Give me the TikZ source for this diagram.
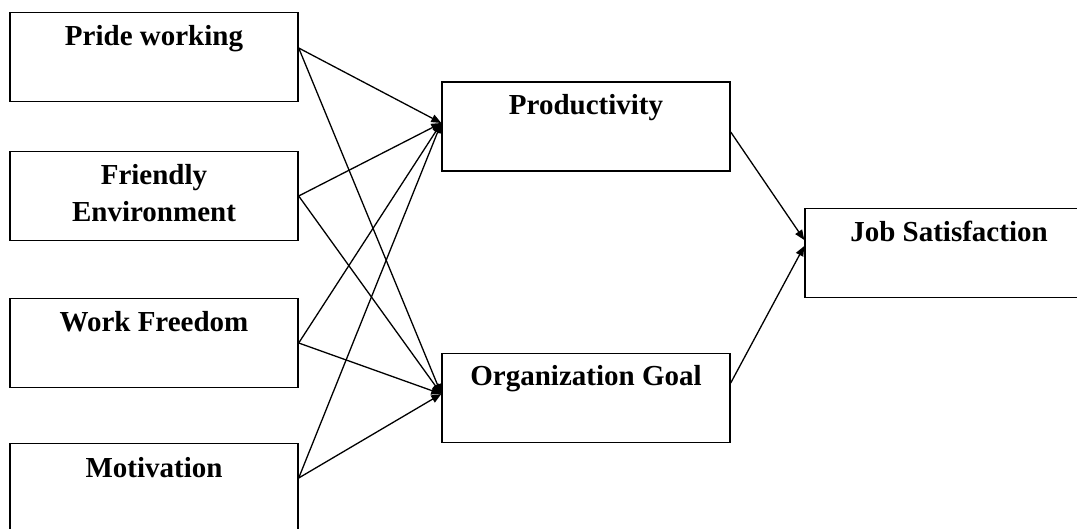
\documentclass[tikz,border=0pt]{standalone}
\usepackage{fontspec}
\setmainfont{Liberation Serif}
\usetikzlibrary{arrows.meta}
\begin{document}
\begin{tikzpicture}[x=1pt,y=-1pt,
  box/.style={draw, line width=1.4pt, minimum width=288pt, minimum height=89pt, inner sep=0pt},
  lbl/.style={anchor=base, inner sep=0pt, font=\fontsize{29}{34}\selectfont\bfseries},
  conn/.style={line width=1.3pt, -{Triangle[length=10pt,width=8pt]}}]
\useasboundingbox (0,0) rectangle (1077,529);
\clip (0,0) rectangle (1077,529);
% left boxes
\node[box] (pw) at (154,57) {};
\node[box] (fe) at (154,196) {};
\node[box] (wf) at (154,343) {};
\node[box] (mo) at (154,488) {};
% middle boxes
\node[box] (pr) at (586,126.5) {};
\node[box] (og) at (586,398) {};
% right box
\node[box] (js) at (949,253) {};
% labels
\node[lbl] (tpw) at (154,46) {Pride working};
\node[lbl] (tfe1) at (154,185) {Friendly};
\node[lbl] (tfe2) at (154,222) {Environment};
\node[lbl] (twf) at (154,332) {Work Freedom};
\node[lbl] (tmo) at (154,477) {Motivation};
\node[lbl] (tpr) at (586,115) {Productivity};
\node[lbl] (tog) at (586,386) {Organization Goal};
\node[lbl] (tjs) at (949,242) {Job Satisfaction};
% connectors
\coordinate (prin) at ([yshift=3.5pt]pr.west);
\coordinate (ogin) at ([yshift=4pt]og.west);
\foreach \s/\dy in {pw/9, fe/0, wf/0, mo/10}{
  \draw[conn] ([yshift=\dy pt]\s.east) -- (prin);
  \draw[conn] ([yshift=\dy pt]\s.east) -- (ogin);
}
\draw[conn] ([yshift=-5.5pt]pr.east) -- ([yshift=13pt]js.west);
\draw[conn] ([yshift=15pt]og.east) -- ([yshift=7pt]js.west);
\end{tikzpicture}
\end{document}
